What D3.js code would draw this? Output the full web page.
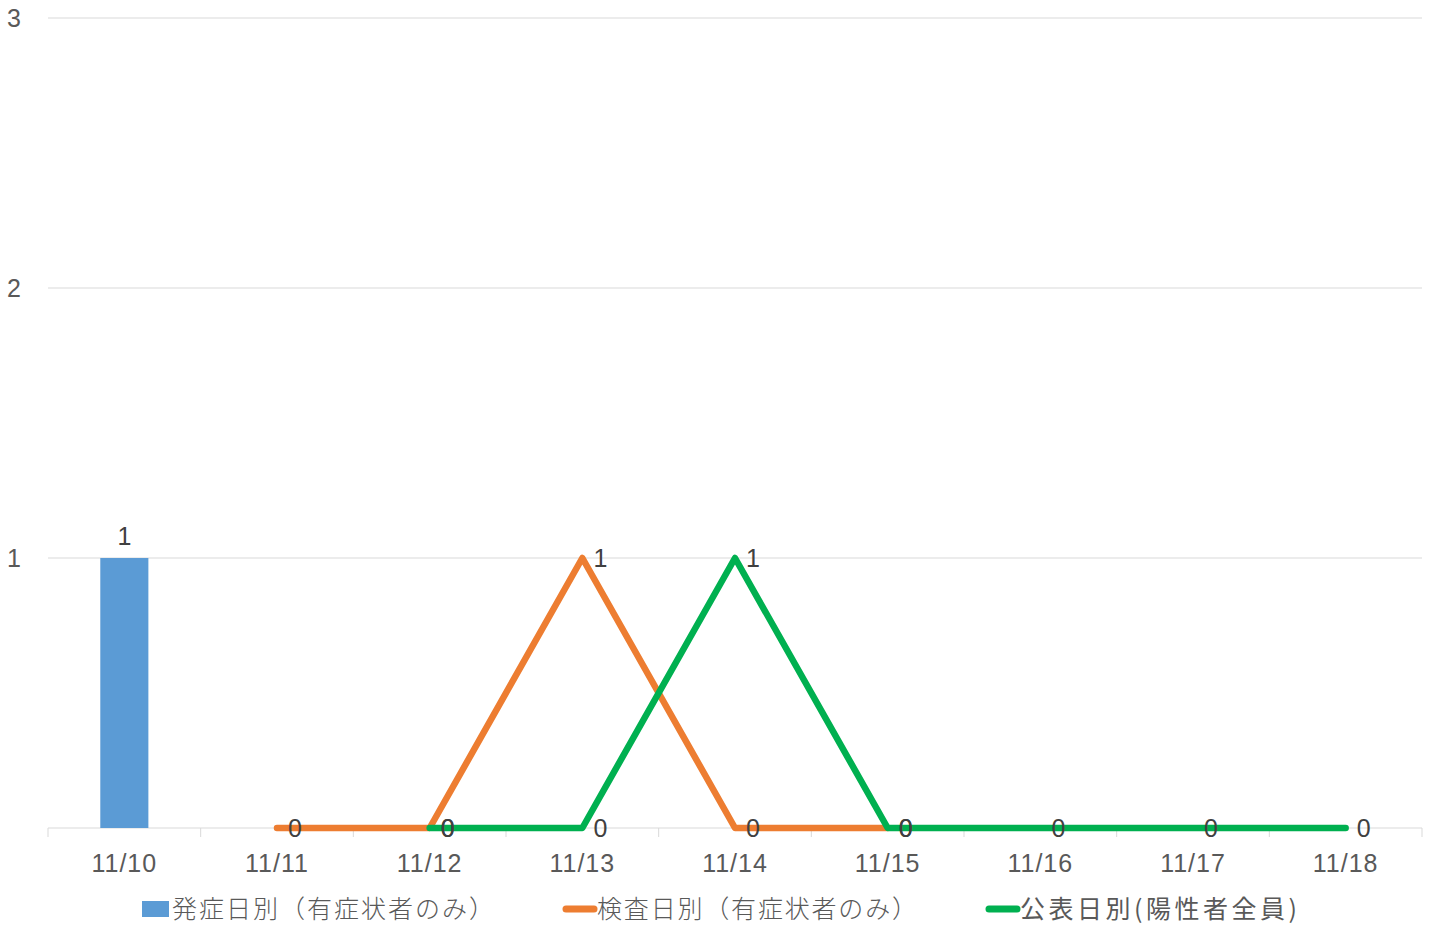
<!DOCTYPE html>
<html><head><meta charset="utf-8">
<script src="https://cdn.jsdelivr.net/npm/d3@7"></script>
<style>
html,body{margin:0;padding:0;background:#fff;}
svg{display:block;}
</style>
</head><body>
<svg id="chart" width="1433" height="926"></svg>
<script>
const categories = ["11/10","11/11","11/12","11/13","11/14","11/15","11/16","11/17","11/18"];
const onsetValues = [1, null, null, null, null, null, null, null, null];
const testValues = [null, 0, 0, 1, 0, 0, null, null, null];
const publishValues = [null, null, 0, 0, 1, 0, 0, 0, 0];
const yTicks = [1, 2, 3];
const seriesNames = ["発症日別（有症状者のみ）", "検査日別（有症状者のみ）", "公表日別(陽性者全員)"];
const colors = ["#5b9bd5", "#ed7d31", "#00b050"];

(function(){
const svg = d3.select("#chart");
const mLeft = 48, mRight = 1422, mTop = 18, mBottom = 828;
const x = d3.scaleBand().domain(categories).range([mLeft, mRight]).padding(0);
const y = d3.scaleLinear().domain([0, 3]).range([mBottom, mTop]);
const numFont = "'Liberation Sans', Arial, sans-serif";
const cjkFont = "'Noto Sans CJK JP', sans-serif";
const numSize = 25, numSpacing = 1;

// gridlines
svg.append("g").selectAll("line").data(yTicks).join("line")
  .attr("x1", mLeft).attr("x2", mRight)
  .attr("y1", d => y(d)).attr("y2", d => y(d))
  .attr("stroke", "#d9d9d9").attr("stroke-width", 1);

// y labels
svg.append("g").selectAll("text").data(yTicks).join("text")
  .attr("x", 14).attr("y", d => y(d)).attr("dy", "0.36em")
  .attr("text-anchor", "middle")
  .attr("font-family", numFont).attr("font-size", numSize).attr("fill", "#595959")
  .text(d => d);

// x axis line & ticks
svg.append("line").attr("x1", mLeft).attr("x2", mRight).attr("y1", y(0)).attr("y2", y(0))
  .attr("stroke", "#d9d9d9").attr("stroke-width", 1);
const boundaries = categories.map(c => x(c)).concat([x(categories[categories.length-1]) + x.bandwidth()]);
svg.append("g").selectAll("line").data(boundaries).join("line")
  .attr("x1", d => d).attr("x2", d => d).attr("y1", y(0)).attr("y2", y(0) + 9)
  .attr("stroke", "#d9d9d9").attr("stroke-width", 1);
svg.append("g").selectAll("text").data(categories).join("text")
  .attr("x", d => x(d) + x.bandwidth()/2).attr("y", 863).attr("dy", "0.36em")
  .attr("text-anchor", "middle").attr("letter-spacing", numSpacing)
  .attr("font-family", numFont).attr("font-size", numSize).attr("fill", "#595959")
  .text(d => d);

// bars
const barW = x.bandwidth() * 0.315;
const barData = categories.map((c, i) => ({c, v: onsetValues[i]})).filter(d => d.v !== null);
svg.append("g").selectAll("rect").data(barData).join("rect")
  .attr("x", d => x(d.c) + x.bandwidth()/2 - barW/2)
  .attr("width", barW)
  .attr("y", d => y(d.v)).attr("height", d => y(0) - y(d.v))
  .attr("fill", colors[0]);

// lines
const lineGen = d3.line()
  .defined(d => d.v !== null)
  .x(d => x(d.c) + x.bandwidth()/2).y(d => y(d.v));
const lineSeries = [testValues, publishValues];
lineSeries.forEach((vals, k) => {
  const data = categories.map((c, i) => ({c, v: vals[i]}));
  svg.append("path").datum(data).attr("d", lineGen)
    .attr("fill", "none").attr("stroke", colors[k+1]).attr("stroke-width", 6.5)
    .attr("stroke-linecap", "round").attr("stroke-linejoin", "round");
});

// labels
svg.append("g").selectAll("text").data(barData).join("text")
  .attr("x", d => x(d.c) + x.bandwidth()/2).attr("y", d => y(d.v) - 22).attr("dy", "0.36em")
  .attr("text-anchor", "middle")
  .attr("font-family", numFont).attr("font-size", numSize).attr("fill", "#404040")
  .text(d => d.v);
lineSeries.forEach(vals => {
  const data = categories.map((c, i) => ({c, v: vals[i]})).filter(d => d.v !== null);
  svg.append("g").selectAll("text").data(data).join("text")
    .attr("x", d => x(d.c) + x.bandwidth()/2 + 18).attr("y", d => y(d.v)).attr("dy", "0.36em")
    .attr("text-anchor", "middle")
    .attr("font-family", numFont).attr("font-size", numSize).attr("fill", "#404040")
    .text(d => d.v);
});

// legend
const ly = 909;
svg.append("rect").attr("x", 142).attr("y", ly - 8).attr("width", 27).attr("height", 16).attr("fill", colors[0]);
svg.append("line").attr("x1", 566).attr("x2", 594).attr("y1", ly).attr("y2", ly)
  .attr("stroke", colors[1]).attr("stroke-width", 7).attr("stroke-linecap", "round");
svg.append("line").attr("x1", 989).attr("x2", 1017).attr("y1", ly).attr("y2", ly)
  .attr("stroke", colors[2]).attr("stroke-width", 7).attr("stroke-linecap", "round");
const legendItems = [
  {x: 172, w: 322, t: seriesNames[0], weight: 300},
  {x: 597, w: 320, t: seriesNames[1], weight: 300},
  {x: 1020, w: 277, t: seriesNames[2], weight: 400}
];
svg.append("g").selectAll("text").data(legendItems).join("text")
  .attr("x", d => d.x).attr("y", ly).attr("dy", "0.36em")
  .attr("font-family", cjkFont).attr("font-size", 25).attr("font-weight", d => d.weight)
  .attr("fill", "#595959")
  .attr("textLength", d => d.w).attr("lengthAdjust", "spacing")
  .text(d => d.t);
})();
</script>
</body></html>
